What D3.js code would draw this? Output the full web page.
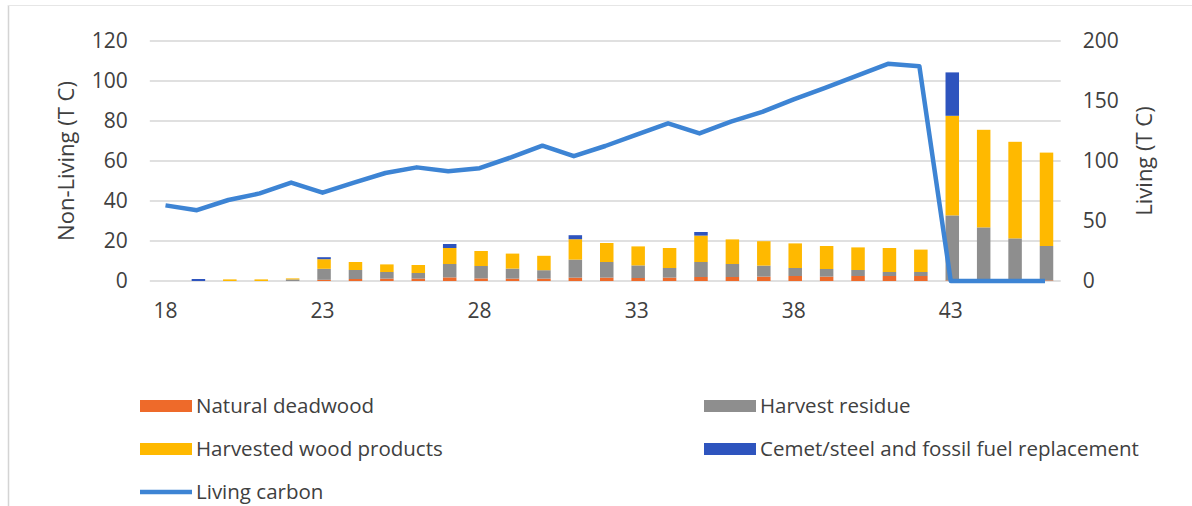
<!DOCTYPE html>
<html>
<head>
<meta charset="utf-8">
<script src="https://cdn.jsdelivr.net/npm/d3@7"></script>
<style>
  html, body { margin: 0; padding: 0; background: #ffffff; }
  svg { display: block; font-family: "Open Sans", "Noto Sans", sans-serif; }
</style>
</head>
<body>
<svg id="chart" width="1192" height="506"></svg>
<script>
const ages = [18,19,20,21,22,23,24,25,26,27,28,29,30,31,32,33,34,35,36,37,38,39,40,41,42,43,44,45,46];
const naturalDeadwood = [0,0,0,0,0,0.6,1,1.2,1.2,1.8,1.3,1.2,1.2,1.7,1.7,1.5,1.7,2,2,2.2,2.5,2.2,2.5,2.5,2.5,0.3,0.3,0.3,0.3];
const harvestResidue = [0,0,0,0,0.8,5.5,4.5,3.3,2.8,6.7,6.2,5,4.2,9,7.8,6.3,4.8,7.5,6.5,5.5,4,3.8,3,2,2,32.5,26.5,21,17.2];
const harvestedWoodProducts = [0,0,0.8,0.8,0.5,4.8,4,3.8,4,8,7.5,7.5,7.2,10.2,9.5,9.5,10,13.2,12.3,12.2,12.3,11.5,11.3,12,11.2,49.8,48.8,48.3,46.7];
const cementSteelReplacement = [0,1,0,0,0,1,0,0,0,2,0,0,0,2,0,0,0,1.8,0,0,0,0,0,0,0,21.7,0,0,0];
const livingCarbon = [63,59,67.5,73,82,73.6,82,90,94.7,91.4,94,103,112.8,104,112.5,122,131.4,123,132.8,141,151.4,161,171,181,179,0,0,0,0];

const leftTicks = [0,20,40,60,80,100,120];
const rightTicks = [0,50,100,150,200];
const xTickLabels = [18,23,28,33,38,43];

const seriesNames = ["Natural deadwood","Harvest residue","Harvested wood products","Cemet/steel  and fossil fuel replacement"];
const seriesKeys = ["dead","residue","hwp","cement"];
const seriesColors = ["#EE6A2A","#8E8E8E","#FFB900","#2E54BE"];
const lineName = "Living carbon";
const lineColor = "#3D84D4";

const svg = d3.select("#chart");
const W = 1192, H = 506;
const plot = {left: 149.8, right: 1060.7, top: 41, bottom: 281};
const textColor = "#404040";

// border
svg.append("line").attr("x1",8.5).attr("x2",8.5).attr("y1",5).attr("y2",H).attr("stroke","#d4d4d4").attr("stroke-width",1.5);
svg.append("line").attr("x1",8).attr("x2",W).attr("y1",5.5).attr("y2",5.5).attr("stroke","#e6e6e6").attr("stroke-width",1);

const x = d3.scaleBand().domain(ages).range([plot.left, plot.right]).paddingInner(0).paddingOuter(0);
const yL = d3.scaleLinear().domain([0,120]).range([plot.bottom, plot.top]);
const yR = d3.scaleLinear().domain([0,200]).range([plot.bottom, plot.top]);

// gridlines
svg.append("g").selectAll("line").data(leftTicks).join("line")
  .attr("x1", plot.left).attr("x2", plot.right)
  .attr("y1", d => yL(d)).attr("y2", d => yL(d))
  .attr("stroke", "#d6d6d6").attr("stroke-width", 1.5);

// left axis
const axL = svg.append("g").attr("transform", `translate(${plot.left},0)`)
  .call(d3.axisLeft(yL).tickValues(leftTicks).tickSize(0).tickPadding(22));
axL.select(".domain").remove();
axL.selectAll("text").attr("font-size", 21).attr("fill", textColor).attr("font-family", "Open Sans");

// right axis
const axR = svg.append("g").attr("transform", `translate(${plot.right},0)`)
  .call(d3.axisRight(yR).tickValues(rightTicks).tickSize(0).tickPadding(22));
axR.select(".domain").remove();
axR.selectAll("text").attr("font-size", 21).attr("fill", textColor).attr("font-family", "Open Sans");

// x axis
const axX = svg.append("g").attr("transform", `translate(0,${plot.bottom})`)
  .call(d3.axisBottom(x).tickValues(xTickLabels).tickSize(0).tickPadding(22));
axX.select(".domain").remove();
axX.selectAll("text").attr("font-size", 21).attr("fill", textColor).attr("font-family", "Open Sans");

// stacked bars
const rows = ages.map((a,i) => ({age:a, dead:naturalDeadwood[i], residue:harvestResidue[i], hwp:harvestedWoodProducts[i], cement:cementSteelReplacement[i]}));
const stack = d3.stack().keys(seriesKeys)(rows);
const barW = 13.5;
svg.append("g").selectAll("g").data(stack).join("g")
  .attr("fill", (d,i) => seriesColors[i])
  .selectAll("rect").data(d => d).join("rect")
  .attr("x", d => x(d.data.age) + x.bandwidth()/2 - barW/2 + 1.5)
  .attr("width", barW)
  .attr("y", d => yL(d[1]))
  .attr("height", d => Math.max(0, yL(d[0]) - yL(d[1])));

// line
const line = d3.line().x((d,i) => x(ages[i]) + x.bandwidth()/2).y(d => yR(d));
svg.append("path").datum(livingCarbon)
  .attr("d", line).attr("fill","none").attr("stroke", lineColor)
  .attr("stroke-width", 4.5).attr("stroke-linejoin","round").attr("stroke-linecap","butt");

// axis titles
svg.append("text").attr("transform", "translate(74,161) rotate(-90)")
  .attr("text-anchor","middle").attr("font-size",22).attr("fill",textColor).text("Non-Living (T C)");
svg.append("text").attr("transform", "translate(1152,161) rotate(-90)")
  .attr("text-anchor","middle").attr("font-size",22).attr("fill",textColor).text("Living (T C)");

// legend
const legendItems = [
  {name: seriesNames[0], color: seriesColors[0], type:"rect", x:140, y:406},
  {name: seriesNames[1], color: seriesColors[1], type:"rect", x:704, y:406},
  {name: seriesNames[2], color: seriesColors[2], type:"rect", x:140, y:449},
  {name: seriesNames[3], color: seriesColors[3], type:"rect", x:704, y:449},
  {name: lineName, color: lineColor, type:"line", x:140, y:492}
];
const lg = svg.append("g").selectAll("g").data(legendItems).join("g")
  .attr("transform", d => `translate(${d.x},${d.y})`);
lg.filter(d => d.type === "rect").append("rect")
  .attr("x",0).attr("y",-6).attr("width",52).attr("height",12).attr("fill", d => d.color);
lg.filter(d => d.type === "line").append("line")
  .attr("x1",0).attr("x2",52).attr("y1",0).attr("y2",0).attr("stroke", d => d.color).attr("stroke-width",4.5);
lg.append("text").attr("x",56).attr("y",0).attr("dy","0.35em")
  .attr("font-size",20.5).attr("fill",textColor).text(d => d.name);
</script>
</body>
</html>
